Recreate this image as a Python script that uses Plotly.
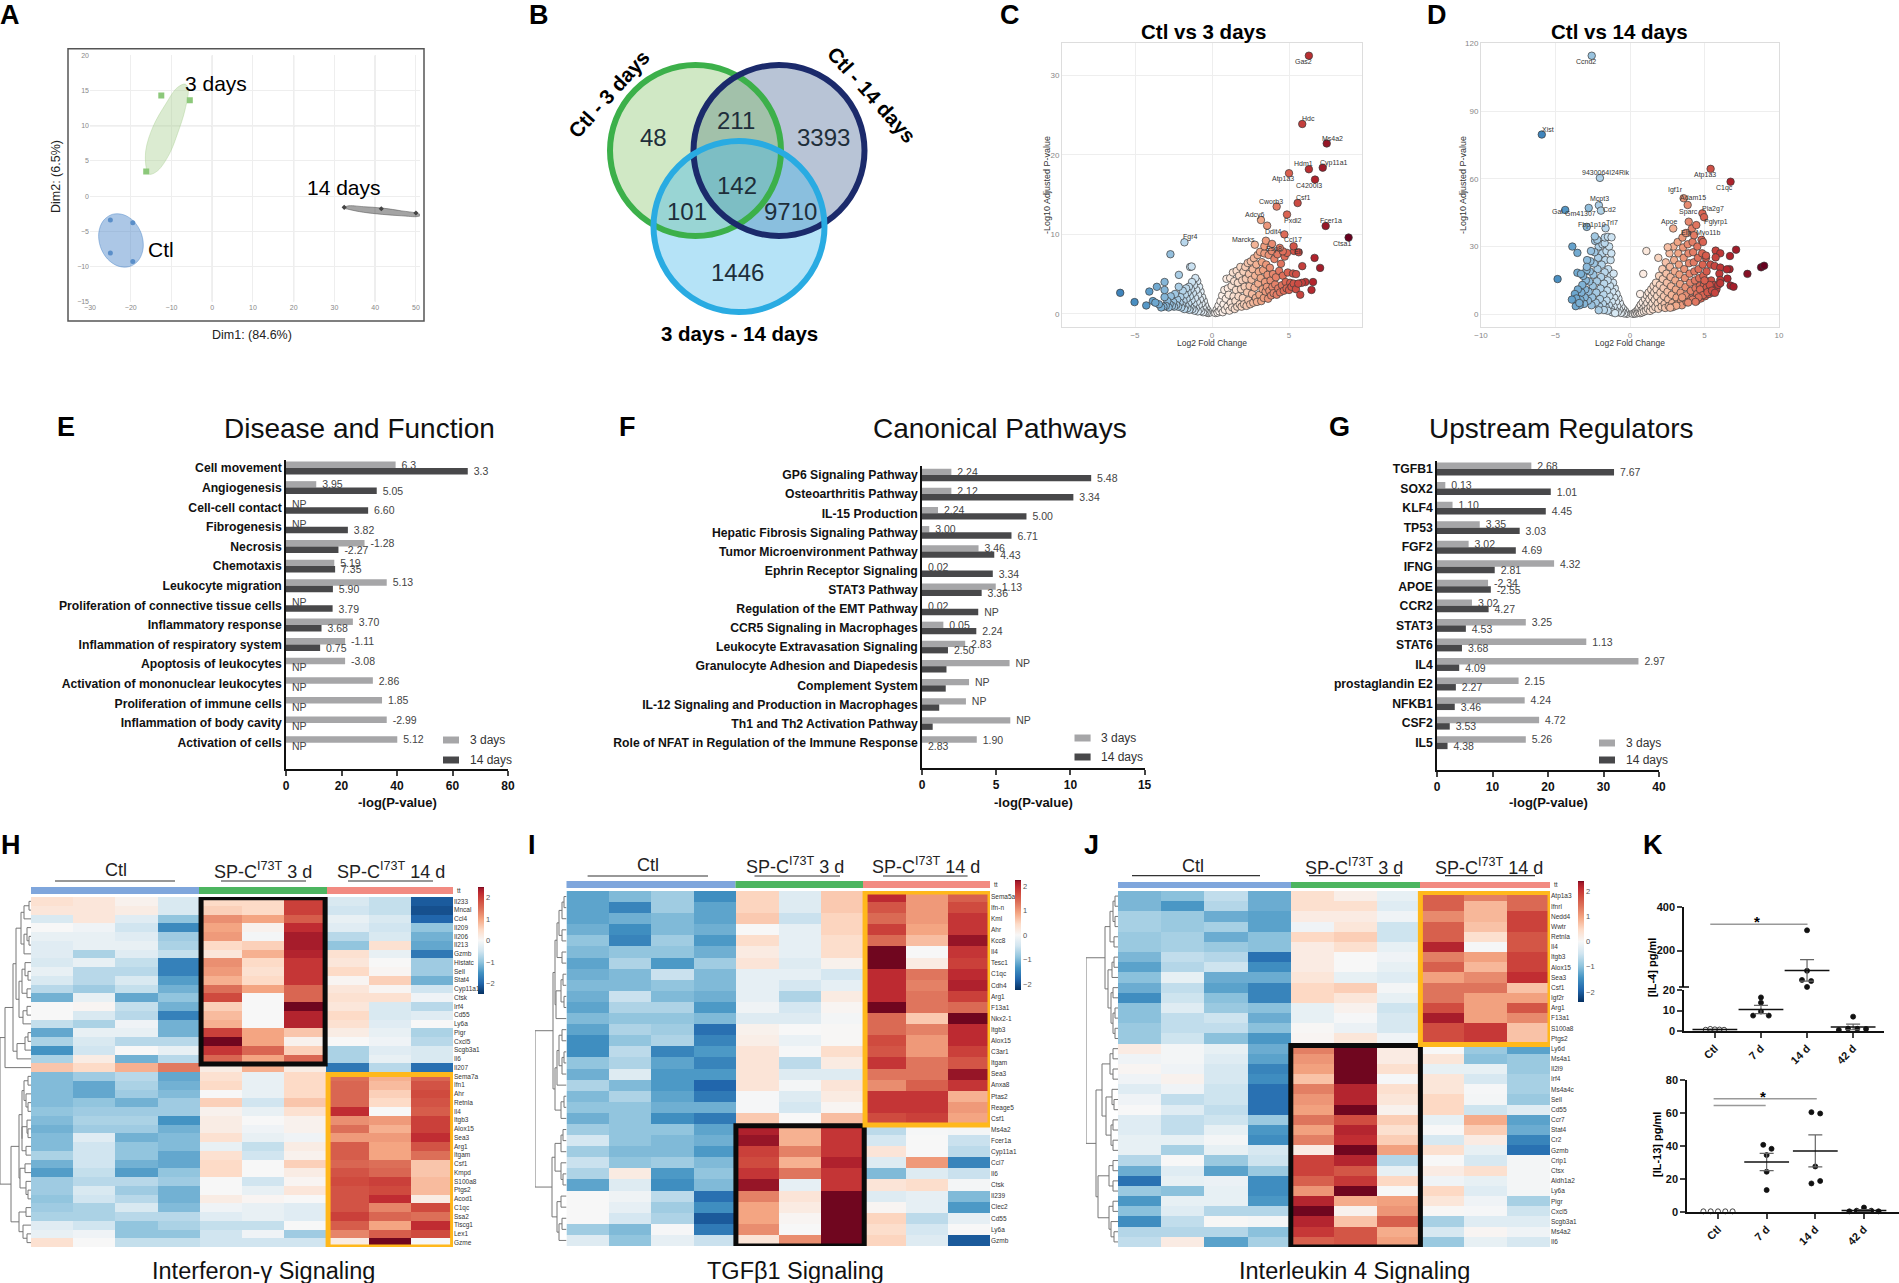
import plotly.graph_objects as go

W, H = 1899, 1283
FONT = "Liberation Sans"

# A - PCA
a_ctl_x = [-25, -19.5, -25, -19.5]
a_ctl_y = [-3.4, -3.8, -8.1, -9.3]
a_3d_x = [-12.5, -5.5, -16.2]
a_3d_y = [14.3, 13.6, 3.5]
a_14d_x = [32.4, 41.5, 50]
a_14d_y = [-1.6, -1.8, -2.4]
# outline of each group cloud, read at 12 points round the ellipse
a_ctl_ell_x = [-20.24, -18.0, -16.95, -17.36, -19.1, -21.75, -24.56, -26.8, -27.85, -27.44, -25.7, -23.05, -20.24]
a_ctl_ell_y = [-10.0, -9.05, -7.37, -5.4, -3.67, -2.65, -2.6, -3.55, -5.23, -7.2, -8.93, -9.95, -10.0]
a_3d_ell_x = [-8.5, -6.7, -5.9, -6.6, -8.6, -11.5, -14.5, -16.3, -16.1, -15.4, -13.4, -10.5, -8.5]
a_3d_ell_y = [8.9, 12.2, 15.2, 15.9, 15.4, 13.0, 9.9, 6.5, 3.8, 3.1, 3.6, 6.0, 8.9]
a_14d_ell_x = [51.2, 50.4, 46.5, 41.8, 37.1, 33.6, 32.4, 33.2, 37.1, 41.8, 46.5, 50.0, 51.2]
a_14d_ell_y = [-2.7, -2.9, -2.8, -2.6, -2.3, -1.9, -1.7, -1.4, -1.5, -1.7, -2.1, -2.4, -2.7]
a_xticks = [-30, -20, -10, 0, 10, 20, 30, 40, 50]
a_yticks = [-15, -10, -5, 0, 5, 10, 15, 20]

# B - Venn, circles in page pixels
venn_cx = [779, 695.5, 739]
venn_cy = [150.5, 150.5, 226.5]
venn_r = [85.5, 85.5, 85.5]
venn_fill = ["rgba(40,75,130,0.33)", "rgba(120,190,90,0.35)", "rgba(70,185,235,0.40)"]
venn_line = ["#1B2A6B", "#3CB04A", "#29ABE2"]
venn_nums = ["48", "211", "3393", "142", "101", "9710", "1446"]
venn_nx = [653, 736, 823, 737, 687, 790, 737]
venn_ny = [137, 120, 137, 185, 212, 212, 272]

# C - volcano
c_genes = [(6.29, 32.5), (5.86, 23.9), (7.45, 21.45), (7.19, 18.4), (6.29, 18.2), (5.0, 17.7), (6.69, 16.9),
           (5.56, 13.95), (4.2, 13.5), (3.18, 11.8), (4.87, 12.5), (7.38, 11.06), (8.87, 9.6), (-1.79, 9.0),
           (3.58, 11.1), (2.78, 8.7), (4.7, 10.0), (-2.7, 7.5), (-1.42, 5.9), (-1.32, 5.95), (-2.15, 4.9),
           (-5.96, 2.64), (-5.03, 1.47), (-4.07, 2.8), (-4.27, 1.05), (-3.84, 1.6), (-3.68, 1.4), (-3.58, 3.4),
           (-3.08, 4.0), (-3.08, 3.0), (6.66, 7.04), (7.02, 5.78), (5.86, 6.0), (5.26, 5.07), (5.46, 5.0),
           (6.56, 4.0), (6.46, 3.0), (5.73, 2.4), (6.06, 4.0), (5.83, 3.9), (5.6, 3.8), (5.33, 7.9), (4.87, 7.67),
           (4.6, 7.87), (4.4, 8.3), (5.3, 8.5), (5.63, 7.75), (3.4, 8.5), (3.5, 9.2), (3.9, 8.8)]
c_left = [(-0.21, 0.1), (-0.28, 0.4), (-0.33, 0.15), (-0.37, 0.7), (-0.42, 0.25), (-0.46, 1.1), (-0.5, 0.4), (-0.53, 1.6),
          (-0.58, 0.2), (-0.6, 0.8), (-0.64, 2.1), (-0.68, 1.3), (-0.7, 0.35), (-0.74, 2.8), (-0.78, 1.8), (-0.8, 0.6),
          (-0.84, 3.4), (-0.86, 1.1), (-0.9, 2.4), (-0.92, 0.3), (-0.96, 4.1), (-0.98, 1.5), (-1.02, 3.0), (-1.05, 0.7),
          (-1.08, 4.5), (-1.1, 2.0), (-1.14, 0.4), (-1.17, 3.6), (-1.2, 1.2), (-1.24, 2.6), (-1.27, 0.6), (-1.3, 4.0),
          (-1.33, 1.7), (-1.37, 3.1), (-1.4, 0.8), (-1.44, 2.2), (-1.47, 0.5), (-1.5, 3.4), (-1.54, 1.3), (-1.58, 2.7),
          (-1.6, 0.7), (-1.65, 1.9), (-1.68, 3.2), (-1.72, 1.0), (-1.76, 2.4), (-1.8, 0.6), (-1.85, 1.6), (-1.9, 2.9),
          (-1.94, 1.1), (-2.0, 0.8), (-2.05, 2.1), (-2.1, 1.4), (-2.16, 3.4), (-2.2, 0.9), (-2.26, 1.8), (-2.32, 1.1),
          (-2.4, 2.5), (-2.46, 0.9), (-2.52, 1.5), (-2.6, 1.0), (-2.68, 2.2), (-2.75, 1.2), (-2.82, 0.8), (-2.9, 1.6),
          (-3.0, 1.0), (-3.08, 2.1), (-3.15, 0.9), (-3.3, 0.8), (-3.45, 1.2)]
c_right = [(0.22, 0.1), (0.3, 0.5), (0.36, 0.15), (0.42, 1.0), (0.48, 0.3), (0.55, 1.6), (0.6, 0.6), (0.66, 2.3), (0.7, 0.2),
           (0.75, 1.2), (0.8, 3.0), (0.84, 0.5), (0.9, 1.9), (0.94, 4.4), (1.0, 0.9), (1.03, 3.2), (1.08, 2.4), (1.13, 0.4),
           (1.18, 4.5), (1.22, 1.4), (1.27, 3.5), (1.31, 0.8), (1.36, 5.2), (1.4, 2.2), (1.44, 4.1), (1.48, 0.6), (1.52, 1.6),
           (1.56, 3.0), (1.6, 5.4), (1.64, 0.9), (1.68, 3.9), (1.72, 2.2), (1.76, 4.8), (1.8, 1.2), (1.84, 5.9), (1.88, 3.1),
           (1.92, 0.9), (1.96, 4.2), (2.0, 2.0), (2.04, 5.3), (2.08, 1.2), (2.12, 3.4), (2.16, 5.9), (2.2, 4.4), (2.24, 1.0),
           (2.28, 2.7), (2.32, 6.4), (2.36, 1.7), (2.4, 5.0), (2.44, 3.5), (2.48, 1.2), (2.52, 6.6), (2.56, 4.3), (2.6, 2.5),
           (2.64, 5.6), (2.68, 1.4), (2.72, 7.0), (2.76, 3.3), (2.8, 4.8), (2.84, 2.0), (2.88, 6.2), (2.92, 1.5), (2.96, 7.4),
           (3.0, 3.8), (3.04, 5.3), (3.08, 2.4), (3.12, 7.8), (3.16, 4.5), (3.2, 1.6), (3.24, 6.5), (3.28, 3.1), (3.32, 5.5),
           (3.36, 2.0), (3.4, 7.6), (3.44, 4.0), (3.48, 2.8), (3.52, 6.2), (3.56, 3.4), (3.6, 4.9), (3.64, 1.9), (3.68, 7.4),
           (3.72, 2.9), (3.76, 5.8), (3.8, 4.2), (3.84, 2.3), (3.88, 7.9), (3.92, 3.4), (3.96, 5.0), (4.0, 2.6), (4.05, 6.9),
           (4.1, 3.7), (4.15, 4.6), (4.2, 2.4), (4.25, 7.5), (4.3, 3.2), (4.36, 5.4), (4.42, 2.7), (4.48, 6.3), (4.54, 3.6),
           (4.6, 4.8), (4.66, 2.9), (4.72, 7.2), (4.78, 4.0), (4.84, 3.2), (4.92, 5.2), (5.0, 3.0), (5.08, 3.9), (5.16, 3.4),
           (5.3, 3.8), (5.45, 3.1)]
c_labels = [("Gas2", 5.93, 31.75), ("Hdc", 6.26, 24.6), ("Ms4a2", 7.85, 22.1), ("Cyp11a1", 7.95, 19), ("Hdm1", 5.93, 18.9),
            ("Atp1a3", 4.64, 17), ("C4200l3", 6.29, 16.1), ("Csf1", 5.93, 14.7), ("Cworb3", 3.81, 14.2), ("Adcy6", 2.81, 12.5),
            ("Pxdl2", 5.26, 11.8), ("Fcer1a", 7.75, 11.7), ("Ctsa1", 8.44, 8.8), ("Fgr4", -1.42, 9.7), ("Ddit4", 3.94, 10.4),
            ("Marcks", 2.05, 9.4), ("Ccl17", 5.23, 9.3), ("Esp8", 4.04, 8.2), ("Ell", 5.6, 7.8)]

# D - volcano
d_genes = [(-2.57, 114.5), (-5.92, 79.6), (-2.02, 60.4), (5.41, 64.4), (6.75, 58.7), (3.6, 51.4), (3.87, 48.4), (4.86, 44.7),
           (4.97, 43), (3.94, 41), (-2.09, 48.3), (-1.95, 45.9), (-4.35, 46.2), (-2.77, 47.1), (-1.64, 38.1), (-2.9, 38.7),
           (-2.36, 34.5), (-1.69, 34), (-1.48, 34.3), (-1.24, 34.1), (-3.87, 30), (-3.53, 27.2), (-4.86, 15.6), (-3.53, 18.4),
           (-3.29, 17.9), (-2.9, 21), (7.12, 28.6), (6.71, 25.8), (5.75, 28.2), (6.06, 27), (5.75, 25.2), (5.68, 21.4), (6.06, 20.7),
           (6.68, 20), (6.5, 19.9), (7.88, 17.9), (8.8, 20.8), (9.0, 21.5), (6.0, 18), (6.54, 15.8), (6.06, 15.2), (5.92, 13),
           (6.75, 12.7), (6.95, 12.2), (6.06, 13.8), (1.1, 28), (0.89, 17.9), (0.68, 9), (1.9, 25), (2.53, 29.7), (2.9, 38),
           (4.45, 39.5), (3.75, 36), (4.3, 35), (4.9, 32), (5.1, 26), (-3.7, 9), (-3.6, 7), (-3.9, 6.5), (-3.4, 5)]
d_left = [(-0.2, 0.2), (-0.28, 0.7), (-0.34, 1.5), (-0.4, 0.4), (-0.46, 2.4), (-0.52, 1.0), (-0.58, 3.4), (-0.62, 0.6), (-0.68, 5),
          (-0.72, 2.0), (-0.78, 7), (-0.82, 1.0), (-0.86, 3.6), (-0.9, 9), (-0.94, 5.6), (-0.98, 1.6), (-1.02, 11.5), (-1.06, 7.4),
          (-1.1, 3.4), (-1.14, 14), (-1.18, 10), (-1.22, 5.6), (-1.26, 2.2), (-1.3, 17), (-1.34, 12.5), (-1.38, 8), (-1.42, 4),
          (-1.46, 20), (-1.5, 15), (-1.54, 10.6), (-1.58, 6.2), (-1.62, 3), (-1.66, 24), (-1.7, 18.6), (-1.74, 13.6), (-1.78, 8.8),
          (-1.82, 4.6), (-1.86, 27), (-1.9, 22), (-1.94, 16.5), (-1.98, 11.4), (-2.02, 6.8), (-2.06, 3.4), (-2.1, 30), (-2.14, 25),
          (-2.18, 20), (-2.22, 14.6), (-2.26, 9.6), (-2.3, 5.2), (-2.34, 32.5), (-2.38, 27.5), (-2.42, 22.5), (-2.46, 17.5),
          (-2.5, 12.5), (-2.54, 7.5), (-2.58, 4), (-2.62, 28), (-2.66, 23.5), (-2.7, 19), (-2.74, 14.5), (-2.78, 10), (-2.82, 6),
          (-2.88, 24), (-2.92, 19.5), (-2.96, 15), (-3.0, 11), (-3.04, 7.5), (-3.08, 4.6), (-3.14, 17), (-3.2, 13), (-3.26, 9.6),
          (-3.32, 6.4), (-3.38, 4), (-3.5, 11), (-3.56, 5), (-3.64, 3.6), (-1.2, 0.9), (-1.5, 1.6), (-1.75, 1.9), (-2.1, 1.8),
          (-1.0, 0.5), (-1.3, 24), (-1.58, 28), (-1.4, 30), (-1.25, 27), (-1.85, 31), (-1.1, 18), (-2.2, 33), (-1.7, 31.5)]
d_right = [(0.2, 0.2), (0.3, 0.6), (0.35, 0.3), (0.42, 1.2), (0.48, 0.5), (0.53, 2), (0.58, 0.9), (0.62, 3), (0.68, 0.5), (0.72, 4.2),
           (0.76, 1.6), (0.8, 0.8), (0.85, 5.3), (0.9, 2.6), (0.94, 1.2), (1.0, 6.8), (1.04, 3.8), (1.08, 1.6), (1.12, 8.4), (1.16, 5),
           (1.2, 2.4), (1.25, 9.6), (1.3, 6.6), (1.34, 1.5), (1.38, 3.6), (1.42, 11), (1.46, 8), (1.5, 4.8), (1.54, 2.2), (1.58, 12.5),
           (1.62, 9.6), (1.66, 6.4), (1.7, 3.2), (1.74, 14), (1.78, 11), (1.82, 8), (1.86, 4.8), (1.9, 2.4), (1.95, 17), (2, 13),
           (2.04, 9.6), (2.08, 6.2), (2.12, 3.4), (2.17, 20), (2.2, 15.6), (2.25, 11.6), (2.28, 8), (2.32, 4.6), (2.36, 2.8), (2.4, 23),
           (2.44, 18), (2.48, 14), (2.52, 10), (2.56, 6.6), (2.6, 3.6), (2.65, 27), (2.68, 21), (2.72, 16.5), (2.76, 12.4), (2.8, 8.6),
           (2.84, 5), (2.88, 3.2), (2.92, 30), (2.96, 24), (3, 19), (3.04, 15), (3.08, 11), (3.12, 7.4), (3.16, 4.4), (3.2, 32),
           (3.24, 27), (3.28, 22), (3.32, 17.6), (3.36, 13.4), (3.4, 9.6), (3.44, 6), (3.48, 4), (3.52, 34), (3.56, 29.6), (3.6, 25),
           (3.64, 20), (3.68, 16), (3.72, 12), (3.76, 8.4), (3.8, 5.4), (3.84, 36), (3.88, 31), (3.92, 27), (3.96, 22.6), (4, 18),
           (4.04, 14), (4.08, 10.4), (4.12, 7), (4.16, 38), (4.2, 32), (4.24, 27.5), (4.28, 23), (4.32, 19), (4.36, 15), (4.4, 11.6),
           (4.44, 8), (4.48, 6), (4.52, 30), (4.56, 25), (4.6, 20), (4.64, 16), (4.68, 12.5), (4.72, 9.4), (4.76, 7), (4.8, 33),
           (4.84, 27), (4.88, 22), (4.92, 17), (4.96, 13), (5, 10), (5.04, 8), (5.1, 25), (5.14, 19), (5.2, 14.5), (5.25, 11), (5.3, 9),
           (5.4, 22), (5.45, 15), (5.5, 12), (5.56, 9.6), (5.66, 13), (5.8, 11), (4.5, 9), (4.7, 11), (4.9, 8.5), (5.15, 12), (5.35, 13),
           (5.0, 15), (4.6, 7.5), (4.2, 6.5), (3.9, 5.2), (3.5, 7.5), (3.1, 3.8), (2.7, 2.9), (4.4, 5.5), (5.2, 9.8), (5.5, 10.5), (5.7, 9.5)]
d_labels = [("Ccnd2", -2.98, 111.9), ("Xist", -5.51, 81.9), ("9430064I24Rik", -1.64, 62.6), ("Atp1a3", 5.03, 61.8), ("C1qc", 6.37, 56.1),
            ("Igf1r", 3.08, 54.9), ("Adam15", 4.21, 51.8), ("Pla2g7", 5.55, 46.6), ("Pglyrp1", 5.75, 40.9), ("Sparc", 3.9, 45.2),
            ("Apoe", 2.64, 41), ("Eln", 3.77, 36.2), ("Myo11b", 5.24, 36), ("Mcpt3", -2.05, 51.2), ("Cd2", -1.37, 46.2), ("Gal", -4.86, 45.3),
            ("Gm41307", -3.29, 44.7), ("Trl7", -1.23, 40.6), ("Fbp1p10", -2.57, 39.6)]

# E, F, G - bars
e_cats = ["Cell movement", "Angiogenesis", "Cell-cell contact", "Fibrogenesis", "Necrosis", "Chemotaxis", "Leukocyte migration",
          "Proliferation of connective tissue cells", "Inflammatory response", "Inflammation of respiratory system",
          "Apoptosis of leukocytes", "Activation of mononuclear leukocytes", "Proliferation of immune cells",
          "Inflammation of body cavity", "Activation of cells"]
e_3d = [39.5, 10.9, 0, 0, 28.3, 17.4, 36.3, 0, 24.1, 21.3, 21.3, 31.3, 34.6, 36.3, 40.1]
e_14d = [65.5, 32.7, 29.6, 22.3, 18.9, 17.7, 16.9, 16.8, 12.8, 12.3, 0, 0, 0, 0, 0]
e_3d_txt = ["6.3", "3.95", "NP", "NP", "-1.28", "5.19", "5.13", "NP", "3.70", "-1.11", "-3.08", "2.86", "1.85", "-2.99", "5.12"]
e_14d_txt = ["3.3", "5.05", "6.60", "3.82", "-2.27", "7.35", "5.90", "3.79", "3.68", "0.75", "NP", "NP", "NP", "NP", "NP"]

f_cats = ["GP6 Signaling Pathway", "Osteoarthritis Pathway", "IL-15 Production", "Hepatic Fibrosis Signaling Pathway",
          "Tumor Microenvironment Pathway", "Ephrin Receptor Signaling", "STAT3 Pathway", "Regulation of the EMT Pathway",
          "CCR5 Signaling in Macrophages", "Leukocyte Extravasation Signaling", "Granulocyte Adhesion and Diapedesis",
          "Complement System", "IL-12 Signaling and Production in Macrophages", "Th1 and Th2 Activation Pathway",
          "Role of NFAT in Regulation of the Immune Response"]
f_3d = [1.98, 1.98, 1.08, 0.49, 3.81, 0, 4.97, 0, 1.44, 2.91, 5.9, 3.17, 2.96, 5.95, 3.69]
f_14d = [11.4, 10.2, 7.04, 6.03, 4.87, 4.77, 4.02, 3.79, 3.66, 1.75, 1.65, 1.6, 1.16, 0.72, 0]
f_3d_txt = ["2.24", "2.12", "2.24", "3.00", "3.46", "0.02", "1.13", "0.02", "0.05", "2.83", "NP", "NP", "NP", "NP", "1.90"]
f_14d_txt = ["5.48", "3.34", "5.00", "6.71", "4.43", "3.34", "3.36", "NP", "2.24", "2.50", None, None, None, None, "2.83"]

g_cats = ["TGFB1", "SOX2", "KLF4", "TP53", "FGF2", "IFNG", "APOE", "CCR2", "STAT3", "STAT6", "IL4", "prostaglandin E2", "NFKB1", "CSF2", "IL5"]
g_3d = [17.0, 1.5, 2.8, 7.7, 5.7, 21.1, 9.2, 6.3, 16.0, 26.9, 36.3, 14.7, 15.8, 18.4, 16.0]
g_14d = [31.9, 20.5, 19.6, 14.9, 14.2, 10.4, 9.7, 9.3, 5.2, 4.5, 4.0, 3.4, 3.2, 2.3, 1.9]
g_3d_txt = ["2.68", "0.13", "1.10", "3.35", "3.02", "4.32", "-2.34", "3.02", "3.25", "1.13", "2.97", "2.15", "4.24", "4.72", "5.26"]
g_14d_txt = ["7.67", "1.01", "4.45", "3.03", "4.69", "2.81", "-2.55", "4.27", "4.53", "3.68", "4.09", "2.27", "3.46", "3.53", "4.38"]

# H, I, J - heatmaps, rows as Ctl x4, 3 d x3, 14 d x3
h_genes = ["Il233", "Mncal", "Ccl4", "Il209", "Il206", "Il213", "Gzmb", "Histatc", "Sell", "Stat4", "Cyp11a1", "Ctsk", "Irf4", "Cd55",
           "Ly6a", "Pigr", "Cxcl5", "Scgb3a1", "Il6", "Il207", "Sema7a", "Ifn1", "Ahr", "Retnla", "Il4", "Itgb3", "Alox15", "Sea3", "Arg1",
           "Itgam", "Csf1", "Kmpd", "S100a8", "Ptgs2", "Acod1", "C1qc", "Ssa2", "Tiscg1", "Lex1", "Gzme"]
h_vals = [
    [.4, .3, .1, -.4, .5, .5, 2.0, -.4, -.6, -2.1], [.3, .3, .2, -.4, .6, .5, 2.0, -.5, -.6, -2.2],
    [-.4, .3, -.3, -1.0, 1.2, 1.0, 1.7, -.2, -.4, -2.0], [0, -.1, -.5, -1.6, 1.0, .1, 2.2, -.3, -.5, -1.0],
    [-.2, -.2, -.3, -.9, 1.1, -.05, 2.4, -.7, -.4, -1.2], [-.3, -.2, -.2, -.8, .5, .6, 2.4, -1.0, .4, -1.3],
    [-.3, -.8, -.3, -.6, .3, .9, 2.3, .4, -.2, -1.8], [-.4, -.2, -.6, -1.7, 1.2, .5, 2.1, .3, 0, -.9],
    [-.2, -.7, -.7, -1.7, 1.1, .4, 2.1, .5, .05, -.9], [-.4, -.7, -.4, -1.4, .9, .5, 2.1, .05, .6, -1.2],
    [-.7, -.9, -.6, -1.2, 1.5, 1.0, 1.6, .3, .05, -.5], [-1.2, -.2, -1.3, -1.0, 1.9, 0, 1.6, .4, .4, -.1],
    [0, .05, -.6, -1.2, .6, 0, 2.5, .3, -.4, -.7], [0, -.4, -.7, -1.7, .8, 0, 2.3, .5, -.4, -.3],
    [-.6, -.8, -.1, -1.2, .9, 0, 2.3, .4, -.3, 0], [-1.3, -.2, -.2, -1.2, 2.0, 1.0, .7, .2, -.2, -.8],
    [-.8, -.4, -.7, -.7, 2.5, 1.0, .1, 0, -.1, -.7], [-1.5, -.5, 0, -.2, 2.1, 1.6, .6, -.8, -.3, -.4],
    [-.8, .2, -1.2, -.7, 1.6, 1.0, 1.6, -.8, -.2, -.4], [.7, .5, .9, 1.4, .2, .9, .2, -1.8, -.7, -1.9],
    [-1.1, -.9, -.7, -1.3, .4, -.2, .5, 1.5, .9, 1.6], [-1.1, -1.3, -.8, -1.2, .5, -.2, .5, 1.6, .8, 1.8],
    [-1.1, -1.3, -.9, -1.1, 0, -.2, .5, 1.6, .6, 1.9], [-1.1, -1.0, -1.2, -.9, .6, -.5, .7, 1.6, .5, 1.8],
    [-1.0, -.9, -.9, -.9, .1, -.2, .4, 2.2, 0, 1.7], [-1.1, -.8, -.8, -1.5, .2, 0, .1, 1.2, 1.1, 2.0],
    [-1.2, -.9, -.9, -1.2, .2, -.1, .1, 1.5, .9, 2.0], [-1.1, -.3, -1.2, -1.1, .4, -.2, -.1, 1.1, 1.1, 2.2],
    [-1.1, -.5, -1.0, -1.1, -.2, -.6, .2, 1.7, 1.0, 1.8], [-.8, -.5, -1.0, -1.3, .4, -.5, .1, 1.7, 1.0, 1.5],
    [-1.2, -.5, -1.2, -1.3, .5, 0, .6, 1.6, 1.5, .7], [-1.4, -.6, -1.4, -1.0, .5, 0, .2, 1.8, 1.6, .7],
    [-.9, -.7, -.7, -.9, 0, -.5, .05, 1.9, 2.0, .8], [-.9, -.4, -.9, -1.2, 0, -.2, .3, 1.8, 1.9, .8],
    [-1.0, -.5, -.7, -1.2, .2, .05, 0, 1.8, 2.2, .2], [-.9, -.8, -.4, -1.1, -.1, -.2, -.3, 1.8, 1.3, 1.9],
    [-.8, -.8, -.7, -.7, -.3, -.2, -.3, 2.0, 1.6, 1.5], [-.3, -.5, -1.0, -.8, -.6, -.6, 0, 1.7, 1.0, 2.2],
    [-.2, -.1, -1.0, -1.0, -.5, -.1, -.9, 1.3, 1.7, 1.9], [.4, 0, -.6, -.6, -.5, -.5, -.5, .2, 2.5, 0]]
i_genes = ["Sema5a", "Ifn-n", "Kml", "Ahr", "Kcc8", "Il4", "Tesc1", "C1qc", "Cdh4", "Arg1", "F13a1", "Nkx2-1", "Itgb3", "Alox15", "C3ar1",
           "Itgam", "Sea3", "Anxa8", "Ptas2", "Reage5", "Csf1", "Ms4a2", "Fcer1a", "Cyp11a1", "Ccl7", "Il6", "Ctsk", "Il239", "Clec2", "Cd55",
           "Ly6a", "Gzmb"]
i_vals = [
    [-1.2, -1.0, -.8, -1.4, .5, -.3, .6, 2.0, 1.0, 1.5], [-1.2, -1.5, -.8, -1.2, .5, -.3, .6, 1.6, 1.0, 1.7],
    [-1.2, -1.1, -1.0, -1.2, .6, -.5, .5, 1.4, 1.0, 1.9], [-1.1, -1.4, -1.0, -1.1, 0, -.2, .5, 1.8, .9, 1.9],
    [-.9, -1.5, -.8, -1.3, .4, -.2, .4, 1.4, .7, 2.2], [-1.0, -.9, -.9, -1.1, .2, -.2, .4, 2.3, 0, 1.9],
    [-1.2, -.7, -1.3, -.8, .3, -.3, .1, 2.3, .2, 1.8], [-1.1, -1.0, -.5, -1.0, -.2, -.2, -.4, 2.0, 1.3, 2.0],
    [-1.0, -1.0, -.9, -1.0, -.2, -.4, -.2, 2.0, 1.2, 2.1], [-1.1, -.5, -1.0, -1.1, -.2, -.7, .2, 2.0, 1.3, 1.8],
    [-1.2, -.7, -.7, -1.3, -.1, -.4, .05, 2.3, 1.3, 1.4], [-1.0, -.9, -.9, -1.0, -.3, -.3, -.05, 1.4, .6, 2.5],
    [-1.2, -.7, -.8, -1.7, .1, 0, .02, 1.4, 1.2, 2.0], [-1.4, -.9, -.7, -1.5, .15, -.15, .02, 1.7, 1.0, 2.0],
    [-1.4, -.6, -1.5, -1.3, .3, -.02, .4, 1.6, 1.0, 1.8], [-.9, -.7, -1.2, -1.5, .3, -.6, .2, 1.9, 1.3, 1.6],
    [-1.1, -.3, -1.3, -1.3, .3, -.3, -.3, 1.3, 1.3, 2.2], [-.7, -1.0, -1.3, -1.8, .3, -.05, .3, 1.1, 1.5, 1.9],
    [-1.0, -.7, -1.2, -1.6, -.02, -.3, .2, 1.9, 1.9, .8], [-.9, -.9, -1.1, -1.1, -.02, -.4, .05, 1.9, 1.9, 1.0],
    [-1.1, -.9, -1.4, -1.6, .6, 0, .7, 1.7, 1.8, .9], [-.8, -.9, -.9, -1.2, 2.1, .8, 1.9, -.6, -.02, -.05],
    [-.4, -.9, -1.0, -1.1, 2.2, .8, 1.9, -.4, 0, -.5], [-.8, -1.0, -1.0, -1.3, 1.8, 1.2, 1.9, .3, 0, -.6],
    [-.5, -.9, -.8, -1.0, 1.7, .8, 2.1, -.3, 1.0, -1.5], [-.7, .2, -1.3, -.9, 1.9, 1.3, 1.9, -1.0, -.3, -.5],
    [-1.2, -.3, -1.4, -1.0, 2.2, -.2, 1.9, .3, .4, -.05], [0, -.1, -.6, -1.7, 1.2, .3, 2.4, -.3, -.2, -1.0],
    [0, -.2, -.8, -1.4, .9, .2, 2.6, .05, -.2, -1.3], [0, -.4, -.7, -1.9, .9, .05, 2.5, .5, -.6, -.2],
    [-.8, -1.0, -.02, -1.6, 1.1, 0, 2.5, .4, -.4, 0], [-.3, -.9, -.2, -.5, .3, 1.1, 2.5, .5, -.3, -1.9]]
j_genes = ["Atp1a3", "Ifnrl", "Nedd4", "Wwtr", "Retnla", "Il4", "Itgb3", "Alox15", "Sea3", "Csf1", "Igf2r", "Arg1", "F13a1", "S100a8", "Ptgs2",
           "Ly6d", "Ms4a1", "Il2l9", "Irf4", "Ms4a4c", "Sell", "Cd55", "Ccr7", "Stat4", "Cr2", "Gzmb", "Crip1", "Ctsx", "Aldh1a2", "Ly6a", "Pigr",
           "Cxcl5", "Scgb3a1", "Ms4a2", "Il6"]
j_vals = [
    [-1.1, -1.0, -.6, -1.2, .4, .15, -.2, 1.6, 1.3, 1.5], [-1.1, -1.4, -.7, -1.2, .4, .4, -.3, 1.6, .8, 1.5],
    [-.8, -.9, -1.2, -1.3, .2, .2, -.1, 1.2, .8, 1.9], [-.8, -.9, -.8, -1.3, -.1, .3, -.5, 1.6, .7, 1.9],
    [-.9, -.8, -1.2, -1.0, .5, .6, -.5, 1.6, .4, 1.7], [-.9, -.8, -.9, -1.0, .2, .4, -.2, 2.2, -.02, 1.7],
    [-1.1, -.6, -.7, -1.8, .2, 0, -.1, 1.3, 1.0, 1.9], [-1.3, -.7, -.5, -1.5, .2, 0, -.2, 1.6, .8, 1.9],
    [-1.0, -.2, -1.2, -1.2, .3, -.2, -.3, 1.0, 1.2, 2.1], [-1.2, -.6, -1.3, -1.6, .5, .6, -.05, 1.4, 1.4, .7],
    [-1.5, -.5, -1.0, -1.6, .5, .3, -.2, 1.4, 1.0, 1.0], [-1.0, -.3, -.9, -1.0, -.2, .1, -.5, 1.8, 1.0, 1.7],
    [-1.0, -.6, -.5, -1.2, -.2, -.02, -.4, 2.3, 1.0, 1.2], [-.9, -.6, -.6, -1.0, .02, -.15, -.4, 1.8, 2.0, .7],
    [-.9, -.5, -1.0, -1.4, .05, .3, -.1, 1.8, 2.0, .7], [.2, -.05, -.2, -1.2, 1.3, 2.4, .2, 0, -.9, -1.3],
    [-.1, -.05, -.3, -1.3, 1.1, 2.4, .2, .3, -1.0, -.9], [.05, -.1, -.4, -1.6, 1.0, 2.4, .4, -.2, -.2, -.9],
    [-.1, .1, -.4, -1.5, .7, 2.7, -.02, .3, -.4, -.8], [-.3, -.1, -.5, -1.8, 1.3, 2.2, .4, .3, -.02, -.8],
    [-.1, -.6, -.5, -1.8, 1.1, 2.2, .3, .5, -.05, -.9], [0, -.3, -.6, -1.8, 1.0, 2.4, .1, .5, -.5, -.3],
    [-.3, -.6, -.5, -.9, 1.4, 1.8, .6, -.2, .9, -1.3], [-.3, -.6, -.2, -1.4, 1.0, 2.2, .4, 0, .6, -1.2],
    [-.2, -.2, -.05, -1.5, 1.3, 2.1, .6, -.4, .2, -1.6], [-.2, -.8, -.2, -.4, .2, 2.4, 1.0, .4, -.2, -1.8],
    [-.7, 0, -.9, -.5, 1.9, 2.2, -.7, 0, -.4, -.05], [-1.2, -.3, -1.3, -.9, 1.9, 1.7, -.2, .2, .4, -.05],
    [-1.8, -.2, -.15, -1.5, 1.6, 2.0, .5, -.1, -.2, -.05], [-.9, -1.0, -.2, -1.5, 1.1, 2.4, 0, .5, -.3, -.05],
    [-1.4, -.2, -.2, -1.4, 2.2, .9, 1.0, .3, -.1, -.8], [-1.0, -.3, -.7, -.7, 2.5, .1, 1.1, .02, -.03, -.5],
    [-1.5, -.6, .02, -.05, 2.2, .7, 1.6, -.8, -.3, -.3], [-.7, -.7, -.7, -1.0, 2.0, 1.7, .9, -.4, .05, -.1],
    [-.6, .2, -1.3, -.8, 1.6, 1.7, 1.0, -.9, -.2, -.4]]

# dendrograms: (depth, child, child), an int is a row
h_tree = (0, (5, (13, (16, (21, (24, (29, 0, 1), 2), (24, (27, 3, (29, 4, 5)), 6)),
                       (19, (22, (25, 7, (28, 8, 9)), (27, 10, 11)), (23, (27, 12, 13), 14))),
                  (17, (25, (28, 15, 16), 17), 18)), 19),
          (11, (19, (22, (24, (28, 20, 21), (26, 22, (28, 23, 24))), (22, (27, 25, (28, 26, 27)), (26, 28, 29))),
                (20, (25, 30, 31), (26, 32, (28, 33, 34)))), (19, (26, 35, 36), (23, 37, (27, 38, 39)))))
i_tree = (0, (18, (20, (22, (24, (27, (29, 0, 1), 2), (27, 3, 4)), (27, 5, 6)), (21, (26, (28, 7, 8), (29, 9, 10)), 11)),
              (20, (22, (24, (27, 12, 13), (27, (29, 14, 15), 16)), 17), (26, (29, 18, 19), 20))),
          (17, (20, (26, (28, 21, 22), 23), (26, 24, (28, 25, 26))), (22, (26, 27, 28), (24, (27, 29, 30), 31))))
j_tree = (0, (19, (24, (27, (29, 0, 1), (29, 2, 3)), (28, 4, 5)),
              (22, (26, (28, 6, 7), 8), (25, (27, 9, 10), (27, (29, 11, 12), (29, 13, 14))))),
          (10, (16, (24, (27, 15, 16), (27, 17, 18)), (20, (26, 19, (28, 20, 21)), (25, (27, 22, 23), (27, 24, 25)))),
           (12, (23, (27, 26, 27), (27, 28, 29)), (23, (27, 30, 31), (25, 32, (28, 33, 34))))))

# K
k_cats = ["Ctl", "7 d", "14 d", "42 d"]
il4_ctl_x = [-0.2, -0.1, 0, 0.1, 0.2]
il4_ctl_y = [0.6, 1.0, 0.8, 0.7, 0.6]
il4_low_x = [1, 1, 1, 0.83, 1.17, 2.69, 2.89, 3, 3.09, 3.28]
il4_low_y = [16.4, 13.8, 9.5, 7.5, 7.5, 0.5, 1.2, 7, 1.1, 1.0]
il4_high_x = [2, 2, 1.89, 2.09, 2]
il4_high_y = [293, 107, 65, 60, 33]
il4_mean_x = [0, 1, 3]
il4_mean = [0.7, 10.5, 2]
il4_err = [0.1, 2, 1.4]
il4_mean14 = 108
il4_err14_up = 50
il4_err14_dn = 48
il13_ctl_x = [-0.3, -0.15, 0, 0.15, 0.3]
il13_ctl_y = [0.4, 0.4, 0.4, 0.4, 0.4]
il13_x = [0.93, 1.1, 1, 1, 1, 1.92, 2.1, 2, 2.1, 1.92, 2.7, 2.85, 3, 3.15, 3.3]
il13_y = [40.7, 38.3, 34.5, 24.4, 13.3, 60.5, 59.7, 27.6, 18.8, 17.3, 0.4, 0.8, 2.7, 0.8, 0.4]
il13_mean_x = [1, 2, 3]
il13_mean = [30.3, 37, 0.9]
il13_err = [5.2, 9.7, 0.5]

fig = go.Figure()
shapes = []
notes = []


def px(x):
    return x / W


def py(y):
    return 1 - y / H


def axes(n, xdom, ydom, xopt, yopt):
    # domains are given in page pixels, ydom as (top, bottom)
    fig.layout[f"xaxis{n}"] = dict(domain=[px(xdom[0]), px(xdom[1])], anchor=f"y{n}", **xopt)
    fig.layout[f"yaxis{n}"] = dict(domain=[py(ydom[1]), py(ydom[0])], anchor=f"x{n}", **yopt)


def label(x, y, s, size, color="#000", bold=False, angle=0, anchor="center", xref="paper", yref="paper"):
    if xref == "paper":
        x, y = px(x), py(y)
    notes.append(dict(x=x, y=y, xref=xref, yref=yref, text=f"<b>{s}</b>" if bold else s, showarrow=False,
                      font=dict(size=size, color=color, family=FONT), textangle=angle, xanchor=anchor, yanchor="middle"))


def hline(x0, x1, y, color="#000", width=1.5):
    shapes.append(dict(type="line", xref="paper", yref="paper", x0=px(x0), x1=px(x1), y0=py(y), y1=py(y),
                       line=dict(color=color, width=width)))


def rect(x0, x1, y0, y1, color):
    shapes.append(dict(type="rect", xref="paper", yref="paper", x0=px(x0), x1=px(x1), y0=py(y0), y1=py(y1),
                       fillcolor=color, line=dict(width=0)))


for letter, lx, ly in [("A", 10, 15), ("B", 539, 15), ("C", 1010, 15), ("D", 1437, 15), ("E", 66, 427), ("F", 627, 427), ("G", 1339, 427),
                       ("H", 11, 845), ("I", 532, 845), ("J", 1091, 845), ("K", 1653, 845)]:
    label(lx, ly, letter, 27, bold=True)

# --- A ---
thin = dict(showgrid=True, gridcolor="#eeeeee", zeroline=False, showline=False, ticks="",
            tickfont=dict(size=7, color="#888", family=FONT))
axes(2, (90, 420), (55.3, 301.7), dict(range=[-30, 51], tickvals=a_xticks, **thin), dict(range=[-15, 20], tickvals=a_yticks, **thin))
for ex, ey, col in [(a_3d_ell_x, a_3d_ell_y, "rgba(165,205,140,0.4)"), (a_ctl_ell_x, a_ctl_ell_y, "rgba(70,130,200,0.45)"),
                    (a_14d_ell_x, a_14d_ell_y, "rgba(90,90,90,0.55)")]:
    fig.add_trace(go.Scatter(x=ex, y=ey, mode="lines", fill="toself", fillcolor=col, line=dict(color=col, width=1, shape="spline"),
                             xaxis="x2", yaxis="y2", showlegend=False))
fig.add_trace(go.Scatter(x=a_3d_x, y=a_3d_y, mode="markers", marker=dict(symbol="square", size=6, color="#8CC87A"), xaxis="x2", yaxis="y2", showlegend=False))
fig.add_trace(go.Scatter(x=a_ctl_x, y=a_ctl_y, mode="markers", marker=dict(size=5, color="#5B8FC9"), xaxis="x2", yaxis="y2", showlegend=False))
fig.add_trace(go.Scatter(x=a_14d_x, y=a_14d_y, mode="markers", marker=dict(symbol="diamond", size=4, color="#444"), xaxis="x2", yaxis="y2", showlegend=False))
for v in [0, 20, 40]:
    shapes.append(dict(type="line", xref="x2", yref="y2", x0=v, x1=v, y0=-15, y1=20, layer="below", line=dict(color="#c8c8c8", width=1)))
shapes.append(dict(type="line", xref="x2", yref="y2", x0=-30, x1=51, y0=10, y1=10, layer="below", line=dict(color="#bdbdbd", width=1)))
shapes.append(dict(type="rect", xref="paper", yref="paper", x0=px(68), x1=px(424), y0=py(48.7), y1=py(321), line=dict(color="#555", width=1.5)))
label(216, 83, "3 days", 21)
label(344, 187, "14 days", 21)
label(161, 250, "Ctl", 21)
label(252, 335, "Dim1: (84.6%)", 12.5, color="#222")
label(56, 177, "Dim2: (6.5%)", 12.5, color="#222", angle=-90)

# --- B ---
for i in range(3):
    shapes.append(dict(type="circle", xref="paper", yref="paper", x0=px(venn_cx[i] - venn_r[i]), x1=px(venn_cx[i] + venn_r[i]),
                       y0=py(venn_cy[i] + venn_r[i]), y1=py(venn_cy[i] - venn_r[i]), fillcolor=venn_fill[i], line=dict(width=0)))
for i in [1, 0, 2]:
    shapes.append(dict(type="circle", xref="paper", yref="paper", x0=px(venn_cx[i] - venn_r[i]), x1=px(venn_cx[i] + venn_r[i]),
                       y0=py(venn_cy[i] + venn_r[i]), y1=py(venn_cy[i] - venn_r[i]), line=dict(color=venn_line[i], width=6)))
for i in range(len(venn_nums)):
    label(venn_nx[i], venn_ny[i], venn_nums[i], 24, color="#1e2e3a")
label(608, 94, "Ctl - 3 days", 20.5, bold=True, angle=-48)
label(872, 94, "Ctl - 14 days", 20.5, bold=True, angle=48)
label(739, 333, "3 days - 14 days", 20.5, bold=True)

# --- C, D ---
volc_scale = [[0, "#2166ac"], [.25, "#4f94c4"], [.42, "#c6dff0"], [.5, "#ffffff"], [.6, "#f9d9c6"], [.68, "#f0a585"], [.78, "#d9604f"],
              [.87, "#b2242c"], [1, "#67001f"]]
grid = dict(showgrid=True, gridcolor="#eeeeee", zeroline=False, showline=True, mirror=True, linecolor="#dddddd", ticks="",
            tickfont=dict(size=8, color="#888", family=FONT))
axes(3, (1062, 1362), (43.3, 327.3), dict(range=[-9.74, 9.74], tickvals=[-5, 0, 5], **grid), dict(range=[-1.7, 34.06], tickvals=[0, 10, 20, 30], **grid))
axes(4, (1481, 1779), (43.3, 327.3), dict(range=[-10, 10], tickvals=[-10, -5, 0, 5, 10], **grid), dict(range=[-5.76, 120], tickvals=[0, 30, 60, 90, 120], **grid))
for n, cloud, genes, names in [(3, c_left + c_right, c_genes, c_labels), (4, d_left + d_right, d_genes, d_labels)]:
    pts = cloud + genes
    vx = [p[0] for p in pts]
    vy = [p[1] for p in pts]
    fig.add_trace(go.Scatter(x=vx, y=vy, mode="markers", xaxis=f"x{n}", yaxis=f"y{n}", showlegend=False,
                             marker=dict(size=7.5, color=vx, colorscale=volc_scale, cmin=-8.9, cmax=8.9, line=dict(color="#3a3a3a", width=0.7))))
    for name, lx, ly in names:
        label(lx, ly, name, 7, color="#333", xref=f"x{n}", yref=f"y{n}")
label(1203, 31.7, "Ctl vs 3 days", 20.5, bold=True)
label(1619, 31.7, "Ctl vs 14 days", 20.5, bold=True)
label(1212, 343, "Log2 Fold Change", 8.5, color="#333")
label(1630, 343, "Log2 Fold Change", 8.5, color="#333")
label(1047, 185, "-Log10 Adjusted P-value", 9, color="#333", angle=-90)
label(1463, 185, "-Log10 Adjusted P-value", 9, color="#333", angle=-90)

# --- E, F, G ---
C3, C14 = "#A6A6A8", "#48484A"
PAD = "\u00a0"


def bar_panel(n, x0, x1, top, bot, first, step, xmax, xticks, cats, v3, v14, t3, t14, title, title_x, x_title, leg_x0, leg_x1, leg_y, leg_tx):
    idx = list(range(len(cats)))
    tick = dict(family=FONT, size=12, color="#111", weight="bold")
    axes(n, (x0, x1), (top, bot),
         dict(range=[0, xmax], tickvals=xticks, ticks="outside", ticklen=5, tickwidth=1.5, showline=True, linecolor="#111", linewidth=1.5,
              showgrid=False, zeroline=False, tickfont=tick),
         dict(range=[(bot - first) / step, (top - first) / step], tickvals=idx, ticktext=cats, ticks="", showline=True, linecolor="#111", linewidth=1.5,
              showgrid=False, zeroline=False, tickfont=dict(family=FONT, size=12.2, color="#111", weight="bold")))
    for vals, txt, col in [(v3, t3, C3), (v14, t14, C14)]:
        padded = [PAD + t if t else None for t in txt]
        fig.add_trace(go.Bar(y=idx, x=vals, orientation="h", marker=dict(color=col, line=dict(width=0)), text=padded, textposition="outside",
                             textfont=dict(size=10.5, color="#444", family=FONT), cliponaxis=False, constraintext="none",
                             xaxis=f"x{n}", yaxis=f"y{n}", showlegend=False))
    label(title_x, 428, title, 28, color="#111")
    label(x_title, 802, "-log(P-value)", 13, bold=True, color="#111")
    for ly, col, s in [(leg_y[0], C3, "3 days"), (leg_y[1], C14, "14 days")]:
        rect(leg_x0, leg_x1, ly - 3.5, ly + 3.5, col)
        label(leg_tx, ly, s, 12, color="#333", anchor="left")


bar_panel(5, 286, 508, 460, 769, 468, 19.62, 80, [0, 20, 40, 60, 80], e_cats, e_3d, e_14d, e_3d_txt, e_14d_txt, "Disease and Function", 359.5, 397,
          443, 459, (740, 760), 468)
bar_panel(6, 922, 1144.6, 466, 768, 475, 19.12, 15, [0, 5, 10, 15], f_cats, f_3d, f_14d, f_3d_txt, f_14d_txt, "Canonical Pathways", 1000, 1033.6,
          1074.5, 1090.6, (738, 757), 1098.6)
bar_panel(7, 1437, 1659, 460.7, 770, 469, 19.55, 40, [0, 10, 20, 30, 40], g_cats, g_3d, g_14d, g_3d_txt, g_14d_txt, "Upstream Regulators", 1561, 1548,
          1599, 1615, (743, 760), 1624)

# --- H, I, J ---
heat_scale = [[0, "#053061"], [.1, "#2166ac"], [.2, "#4393c3"], [.3, "#92c5de"], [.4, "#d1e5f0"], [.5, "#f7f7f7"], [.6, "#fddbc7"],
              [.7, "#f4a582"], [.8, "#dc6f58"], [.88, "#cf4a3e"], [.94, "#c02c32"], [.985, "#a31a2a"], [1, "#70061f"]]
BLACK, GOLD = "#0a0a0a", "#FFB81C"
HEADS = ["Ctl", "SP-C<sup>I73T</sup> 3 d", "SP-C<sup>I73T</sup> 14 d"]


def tree_segments(node, leaf_x, xs, ys):
    if isinstance(node, int):
        return node, leaf_x
    h, a, b = node
    ya, xa = tree_segments(a, leaf_x, xs, ys)
    yb, xb = tree_segments(b, leaf_x, xs, ys)
    xs += [xa, h, h, xb, None]
    ys += [ya, ya, yb, yb, None]
    return (ya + yb) / 2, h


def heat_panel(n, x0, x1, top, bot, splits, vals, genes, zmax, tree, tree_x0, bar_y, cb, head_x, head_y, line_y, lines, caption, cap_x, black, gold):
    nrow = len(vals)
    tfont = dict(size=6.5, color="#333", family=FONT)
    axes(n, (x0, x1), (top, bot), dict(range=[-0.5, 9.5], visible=False),
         dict(range=[nrow - 0.5, -0.5], side="right", tickvals=list(range(nrow)), ticktext=genes, ticks="", ticklen=0, showline=False, showgrid=False,
              zeroline=False, tickfont=tfont))
    fig.add_trace(go.Heatmap(z=vals, x=list(range(10)), y=list(range(nrow)), colorscale=heat_scale, zmin=-zmax, zmax=zmax, xaxis=f"x{n}", yaxis=f"y{n}",
                             colorbar=dict(x=px(cb[0]), xanchor="left", y=py((cb[1] + cb[2]) / 2), yanchor="middle", lenmode="pixels", len=cb[2] - cb[1],
                                           thicknessmode="pixels", thickness=cb[3], outlinewidth=0, xpad=0, ypad=0, tickvals=[-2, -1, 0, 1, 2],
                                           ticks="", tickfont=dict(size=7.5, color="#555", family=FONT))))
    # dendrogram on its own axis
    dn = n + 10
    axes(dn, (tree_x0, x0), (top, bot), dict(range=[0, x0 - tree_x0], visible=False), dict(range=[nrow - 0.5, -0.5], visible=False))
    tx, ty = [], []
    tree_segments(tree, x0 - tree_x0, tx, ty)
    fig.add_trace(go.Scatter(x=tx, y=ty, mode="lines", line=dict(color="#777", width=1), xaxis=f"x{dn}", yaxis=f"y{dn}", showlegend=False))
    # group colour bar
    for a, b, col in zip(splits[:-1], splits[1:], ["#7FA6DC", "#4DB560", "#F28B82"]):
        rect(a, b, bar_y[0], bar_y[1], col)
    label(x1 + 2, (bar_y[0] + bar_y[1]) / 2, "tt", 6.5, color="#333", anchor="left")
    # highlight boxes
    for box, col in [(black, BLACK), (gold, GOLD)]:
        shapes.append(dict(type="rect", xref=f"x{n}", yref=f"y{n}", x0=box[0], x1=box[1], y0=box[2], y1=box[3], line=dict(color=col, width=5)))
    for s, hx in zip(HEADS, head_x):
        label(hx, head_y, s, 18, color="#222")
    for a, b in lines:
        hline(a, b, line_y, color="#333", width=1.2)
    label(cap_x, 1271, caption, 23.5, color="#111")


heat_panel(8, 31, 453, 897, 1247, [31, 199, 327, 453], h_vals, h_genes, 2.5, h_tree, 0, (887, 894), (478, 887, 994, 6),
           (116, 263, 391), 870, 881, [(55, 175), (221, 306), (348, 433)], "Interferon-γ Signaling", 263,
           (3.53, 6.47, -0.4, 18.6), (6.54, 9.49, 19.8, 39.5))
heat_panel(9, 566.5, 990, 891, 1246, [566.5, 735.5, 863, 990], i_vals, i_genes, 2.25, i_tree, 535, (881, 888), (1015, 880, 990, 6),
           (647.6, 795, 926), 865, 876, [(587.6, 708), (754.5, 840), (883, 967.6)], "TGFβ1 Signaling", 795,
           (3.5, 6.53, 20.65, 31.5), (6.55, 9.5, -0.4, 20.6))
heat_panel(10, 1118, 1550, 891, 1247, [1118, 1291, 1420, 1550], j_vals, j_genes, 2.4, j_tree, 1086, (882, 888), (1578, 881, 1002, 5.5),
           (1193, 1354, 1488.6), 866, 875.7, [(1132, 1260), (1309, 1400), (1445, 1535)], "Interleukin 4 Signaling", 1354,
           (3.5, 6.5, 14.7, 34.5), (6.5, 9.5, -0.35, 14.6))

# --- K ---
kfont = dict(family=FONT, size=11, color="#111", weight="bold")
kaxis = dict(showline=True, linecolor="#111", linewidth=1.5, showgrid=False, zeroline=False, ticks="outside", ticklen=5, tickwidth=1.5, tickfont=kfont)
axes(30, (1684, 1884), (990, 1031), dict(range=[-0.67, 3.67], tickvals=[0, 1, 2, 3], ticktext=k_cats, tickangle=-45, **kaxis),
     dict(range=[0, 20], tickvals=[0, 10, 20], **kaxis))
axes(31, (1684, 1884), (907, 987), dict(range=[-0.67, 3.67], visible=False), dict(range=[32.6, 400], tickvals=[200, 400], **kaxis))
axes(32, (1687, 1899), (1080, 1212), dict(range=[-0.637, 3.72], tickvals=[0, 1, 2, 3], ticktext=k_cats, tickangle=-45, **kaxis),
     dict(range=[0, 80], tickvals=[0, 20, 40, 60, 80], **kaxis))
hline(1679, 1689, 987)


def dots(x, y, n, open_=False):
    fig.add_trace(go.Scatter(x=x, y=y, mode="markers", xaxis=f"x{n}", yaxis=f"y{n}", showlegend=False, cliponaxis=False,
                             marker=dict(size=5, color="white" if open_ else "#111", line=dict(color="#111", width=0.8))))


def means(x, y, up, dn, n):
    fig.add_trace(go.Scatter(x=x, y=y, mode="markers", xaxis=f"x{n}", yaxis=f"y{n}", showlegend=False, cliponaxis=False,
                             marker=dict(symbol="line-ew", size=32, line=dict(color="#111", width=1.5)),
                             error_y=dict(type="data", symmetric=False, array=up, arrayminus=dn, color="#666", thickness=1.2, width=7)))


dots(il4_ctl_x, il4_ctl_y, 30, open_=True)
dots(il4_low_x, il4_low_y, 30)
dots(il4_high_x, il4_high_y, 31)
means(il4_mean_x, il4_mean, il4_err, il4_err, 30)
means([2], [il4_mean14], [il4_err14_up], [il4_err14_dn], 31)
dots(il13_ctl_x, il13_ctl_y, 32, open_=True)
dots(il13_x, il13_y, 32)
means(il13_mean_x, il13_mean, il13_err, il13_err, 32)
for xs, ys, n in [([-0.1, 2.01], [321, 321], 31), ([-0.09, 2.03], [68.7, 68.7], 32), ([-0.09, 0.98], [64.5, 64.5], 32)]:
    fig.add_trace(go.Scatter(x=xs, y=ys, mode="lines", line=dict(color="#999", width=1.5), xaxis=f"x{n}", yaxis=f"y{n}", showlegend=False))
label(1757, 921, "*", 15, bold=True)
label(1763, 1096, "*", 15, bold=True)
label(1652, 968, "[IL-4] pg/ml", 11, bold=True, angle=-90)
label(1657, 1145, "[IL-13] pg/ml", 11, bold=True, angle=-90)

fig.update_layout(width=W, height=H, margin=dict(l=0, r=0, t=0, b=0, autoexpand=False), autosize=False, paper_bgcolor="white", plot_bgcolor="white",
                  barmode="group", bargap=0.34, shapes=shapes, annotations=notes, font=dict(family=FONT), showlegend=False)
fig.write_html("out.html", config={"displayModeBar": False}, post_script="document.body.style.margin='0';")
